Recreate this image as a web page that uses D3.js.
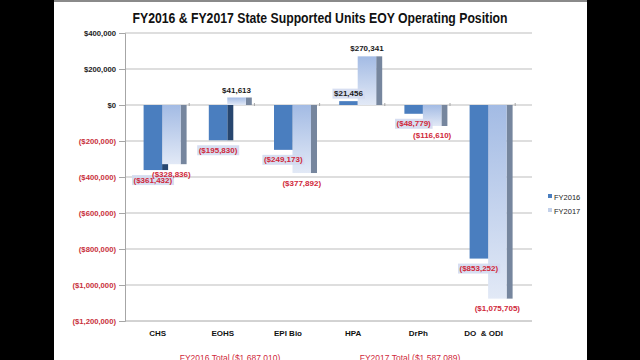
<!DOCTYPE html>
<html><head><meta charset="utf-8">
<script src="https://cdn.jsdelivr.net/npm/d3@7/dist/d3.min.js"></script>
<style>
html,body{margin:0;padding:0;background:#000;}
svg{display:block;}
text{font-family:"Liberation Sans",Arial,sans-serif;}
</style></head>
<body>
<script>
const categories = ["CHS","EOHS","EPI Bio","HPA","DrPh","DO  & ODI"];
const fy2016 = [-361432,-195830,-249173,21456,-48779,-853252];
const fy2017 = [-328836,41613,-377892,270341,-116610,-1075705];
const seriesNames = ["FY2016","FY2017"];
const yTicks = [400000,200000,0,-200000,-400000,-600000,-800000,-1000000,-1200000];
const title = "FY2016 & FY2017 State Supported Units EOY Operating Position";
const totals = ["FY2016 Total ($1,687,010)","FY2017 Total ($1,587,089)"];

const W=640,H=360;
const svg=d3.select("body").append("svg").attr("width",W).attr("height",H);
const defs=svg.append("defs");
const g17=defs.append("linearGradient").attr("id","g17").attr("x1",0).attr("y1",0).attr("x2",0).attr("y2",1);
g17.append("stop").attr("offset","0%").attr("stop-color","#a3bbe4");
g17.append("stop").attr("offset","100%").attr("stop-color","#e2e9f6");

// slide
svg.append("rect").attr("x",54).attr("y",0).attr("width",533).attr("height",H).attr("fill","#fff");
svg.append("line").attr("x1",54).attr("x2",587).attr("y1",1).attr("y2",1).attr("stroke","#8a8a8a").attr("stroke-width",2);

const fmt=d3.format(",");
const money=v=> v>=0 ? "$"+fmt(v) : "($"+fmt(-v)+")";

const x=d3.scaleBand().domain(categories).range([124,515.2]).padding(0);
const y=d3.scaleLinear().domain([-1200000,400000]).range([321,33]);
const bw=18.5, off=5.5, depth=6;

// gridlines
svg.append("g").selectAll("line").data(yTicks).join("line")
  .attr("x1",125).attr("x2",532).attr("y1",d=>y(d)).attr("y2",d=>y(d))
  .attr("stroke",d=>d===-1200000?"#a6a6a6":"#bdbdbd").attr("stroke-width",1);

// y axis
const ax=svg.append("g").attr("transform","translate(125,0)")
  .call(d3.axisLeft(y).tickValues(yTicks).tickSize(6).tickPadding(3).tickFormat(money));
ax.select(".domain").attr("stroke","#a6a6a6");
ax.selectAll(".tick line").attr("stroke","#a6a6a6");
ax.selectAll(".tick text").attr("font-size","7.7px").attr("font-weight","bold")
  .attr("fill",d=>d<0?"#c8303a":"#222");

// category ticks on zero line
svg.append("g").selectAll("line").data(categories).join("line")
  .attr("x1",d=>x(d)+x.bandwidth()).attr("x2",d=>x(d)+x.bandwidth())
  .attr("y1",y(0)-2).attr("y2",y(0)+1).attr("stroke","#a6a6a6");

const bars=svg.append("g");
categories.forEach((c,i)=>{
  const mid=x(c)+x.bandwidth()/2+off;
  const v1=fy2016[i], v2=fy2017[i];
  // FY2016 side
  bars.append("rect").attr("x",mid).attr("width",depth)
    .attr("y",Math.min(y(v1),y(0))).attr("height",Math.abs(y(v1)-y(0))).attr("fill","#27466f");
  // FY2016 front
  bars.append("rect").attr("x",mid-bw).attr("width",bw)
    .attr("y",Math.min(y(v1),y(0))).attr("height",Math.abs(y(v1)-y(0))).attr("fill","#4a7ebf");
  // FY2017 side
  bars.append("rect").attr("x",mid+bw).attr("width",depth)
    .attr("y",Math.min(y(v2),y(0))).attr("height",Math.abs(y(v2)-y(0))).attr("fill","#76869e");
  // FY2017 front
  bars.append("rect").attr("x",mid).attr("width",bw)
    .attr("y",Math.min(y(v2),y(0))).attr("height",Math.abs(y(v2)-y(0))).attr("fill","url(#g17)");
});

// data labels
const lab=svg.append("g");
function addLabel(cx,v,withBg){
  const ty = v>=0 ? y(v)-5 : y(v)+12.5;
  const t=lab.append("text").attr("x",cx).attr("y",ty).attr("text-anchor","middle")
    .attr("font-size","8px").attr("font-weight","bold")
    .attr("fill",v<0?"#d0283a":"#1a1a1a").text(money(v));
  if(withBg){
    const b=t.node().getBBox();
    lab.insert("rect","text").attr("x",b.x-1.5).attr("y",b.y-0.5).attr("width",b.width+3).attr("height",b.height+1)
      .attr("fill","#d3daef").attr("opacity",0.9);
  }
}
categories.forEach((c,i)=>{
  const mid=x(c)+x.bandwidth()/2+off;
  addLabel(mid-bw/2,fy2016[i],true);
});
categories.forEach((c,i)=>{
  const mid=x(c)+x.bandwidth()/2+off;
  addLabel(mid+bw/2,fy2017[i],false);
});

// category labels
svg.append("g").selectAll("text").data(categories).join("text")
  .attr("x",d=>x(d)+x.bandwidth()/2+1).attr("y",336).attr("text-anchor","middle")
  .attr("font-size","8px").attr("font-weight","bold").attr("fill","#111")
  .style("white-space","pre").text(d=>d);

// title
svg.append("text").attr("x",320).attr("y",23).attr("text-anchor","middle")
  .attr("font-size","14px").attr("font-weight","bold").attr("fill","#111")
  .attr("textLength",375).attr("lengthAdjust","spacingAndGlyphs").text(title);

// legend
const lg=svg.append("g");
const legColors=["#4a7ebf","#c3d1ea"];
seriesNames.forEach((s,i)=>{
  lg.append("rect").attr("x",548).attr("y",194+i*14).attr("width",4).attr("height",4).attr("fill",legColors[i]);
  lg.append("text").attr("x",554).attr("y",199.5+i*14).attr("font-size","7.5px").attr("fill","#222").text(s);
});

// totals
svg.append("g").selectAll("text").data(totals).join("text")
  .attr("x",(d,i)=>i===0?230:410).attr("y",361).attr("text-anchor","middle")
  .attr("font-size","8.5px").attr("fill","#d0283a").text(d=>d);
</script>
</body></html>
